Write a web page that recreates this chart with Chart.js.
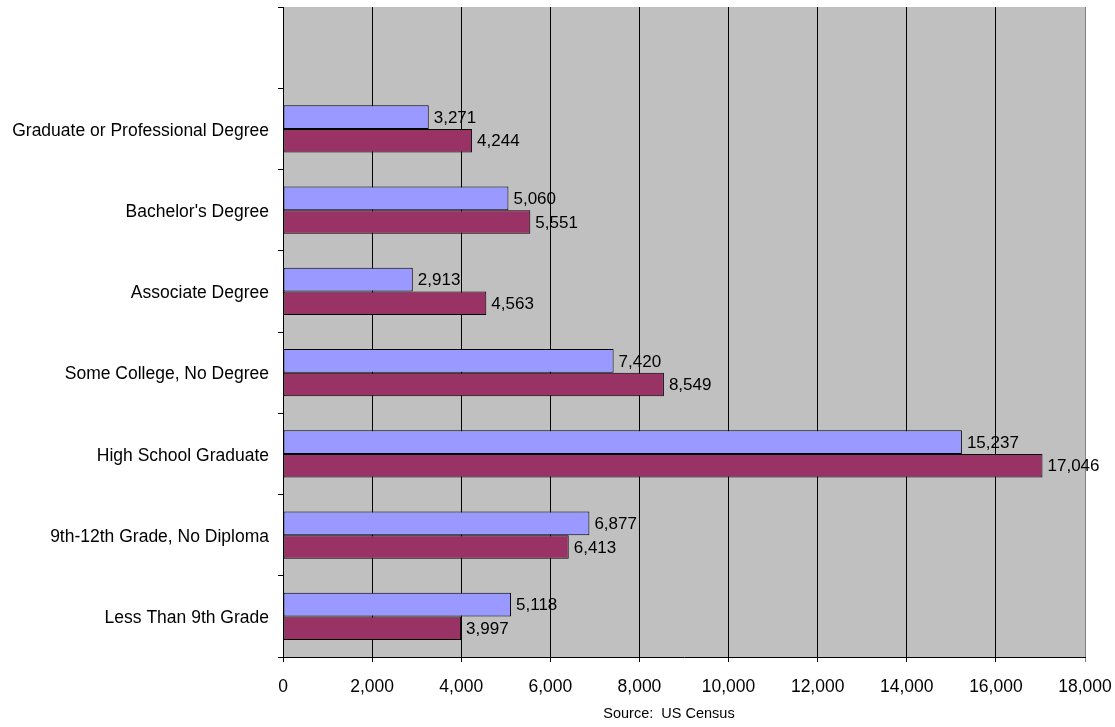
<!DOCTYPE html>
<html>
<head>
<meta charset="utf-8">
<title>Educational Attainment</title>
<script src="https://cdn.jsdelivr.net/npm/chart.js@4/dist/chart.umd.min.js"></script>
<style>
    body { margin: 0; background: #ffffff; }
    #wrap { width: 1115px; height: 727px; }
</style>
</head>
<body>
<div id="wrap"><canvas id="education-chart" width="1115" height="727"></canvas></div>
<script>
// Categories, top to bottom (first slot is left empty like the original)
const categories = [
    '',
    'Graduate or Professional Degree',
    "Bachelor's Degree",
    'Associate Degree',
    'Some College, No Degree',
    'High School Graduate',
    '9th-12th Grade, No Diploma',
    'Less Than 9th Grade'
];

// Series values
const seriesA = [null, 3271, 5060, 2913, 7420, 15237, 6877, 5118];
const seriesB = [null, 4244, 5551, 4563, 8549, 17046, 6413, 3997];

// Axis settings
const xMax = 18000;
const xStep = 2000;
const sourceNote = 'Source:  US Census';

const FONT = 'Arial, "Liberation Sans", sans-serif';

document.addEventListener('DOMContentLoaded', function() {
    createEducationChart();
});

// Value labels to the right of each bar
const valueLabels = {
    id: 'valueLabels',
    afterDatasetsDraw: function(chart) {
        const ctx = chart.ctx;
        ctx.save();
        ctx.font = '17px ' + FONT;
        ctx.fillStyle = '#000000';
        ctx.textAlign = 'left';
        ctx.textBaseline = 'middle';
        chart.data.datasets.forEach(function(ds, i) {
            chart.getDatasetMeta(i).data.forEach(function(bar, j) {
                const v = ds.data[j];
                if (v === null) return;
                ctx.fillText(v.toLocaleString('en-US'), bar.x + 5, bar.y + 1);
            });
        });
        ctx.restore();
    }
};

// Source note under the x axis
const sourceText = {
    id: 'sourceText',
    afterDraw: function(chart) {
        const ctx = chart.ctx;
        const area = chart.chartArea;
        ctx.save();
        ctx.font = '14.5px ' + FONT;
        ctx.fillStyle = '#000000';
        ctx.textAlign = 'center';
        ctx.textBaseline = 'middle';
        ctx.fillText(sourceNote, (area.left + area.right) / 2 - 15, 714);
        ctx.restore();
    }
};

// Gray plot background
const plotBackground = {
    id: 'plotBackground',
    beforeDraw: function(chart) {
        const ctx = chart.ctx;
        const a = chart.chartArea;
        ctx.save();
        ctx.fillStyle = '#c0c0c0';
        ctx.fillRect(a.left, a.top, a.right - a.left, a.bottom - a.top);
        ctx.restore();
    }
};

// Drop the label padding chart.js adds so the plot area keeps its own size
function noPadding(scale) {
    scale.paddingTop = 0;
    scale.paddingBottom = 0;
    scale.paddingLeft = 0;
    scale.paddingRight = 0;
}

function createEducationChart() {
    const ctx = document.getElementById('education-chart').getContext('2d');

    const data = {
        labels: categories,
        datasets: [
            {
                label: 'Series 1',
                data: seriesA,
                backgroundColor: '#9999ff',
                borderColor: '#000000',
                borderWidth: 1,
                borderSkipped: false,
                categoryPercentage: 0.58,
                barPercentage: 1.0
            },
            {
                label: 'Series 2',
                data: seriesB,
                backgroundColor: '#993366',
                borderColor: '#000000',
                borderWidth: 1,
                borderSkipped: false,
                categoryPercentage: 0.58,
                barPercentage: 1.0
            }
        ]
    };

    const config = {
        type: 'bar',
        data: data,
        options: {
            indexAxis: 'y',
            responsive: false,
            animation: false,
            layout: {
                padding: { left: 0, right: 30, top: 7, bottom: 0 }
            },
            plugins: {
                legend: { display: false },
                tooltip: { enabled: false }
            },
            scales: {
                x: {
                    min: 0,
                    max: xMax,
                    afterFit: function(scale) {
                        scale.height = 70;
                        noPadding(scale);
                    },
                    ticks: {
                        stepSize: xStep,
                        color: '#000000',
                        padding: 15,
                        maxRotation: 0,
                        font: { family: FONT, size: 17.5 },
                        callback: function(value) {
                            return value.toLocaleString('en-US');
                        }
                    },
                    grid: {
                        color: function(c) {
                            return c.tick && c.tick.value === xMax ? '#808080' : '#000000';
                        },
                        lineWidth: 1,
                        tickLength: 5
                    },
                    border: { color: '#000000' }
                },
                y: {
                    afterFit: function(scale) {
                        scale.width = 283;
                        noPadding(scale);
                    },
                    ticks: {
                        color: '#000000',
                        padding: 9,
                        labelOffset: 2,
                        font: { family: FONT, size: 17.5 }
                    },
                    grid: {
                        drawOnChartArea: false,
                        color: '#000000',
                        tickLength: 5
                    },
                    border: { color: '#000000' }
                }
            }
        },
        plugins: [plotBackground, valueLabels, sourceText]
    };

    new Chart(ctx, config);
}
</script>
</body>
</html>
